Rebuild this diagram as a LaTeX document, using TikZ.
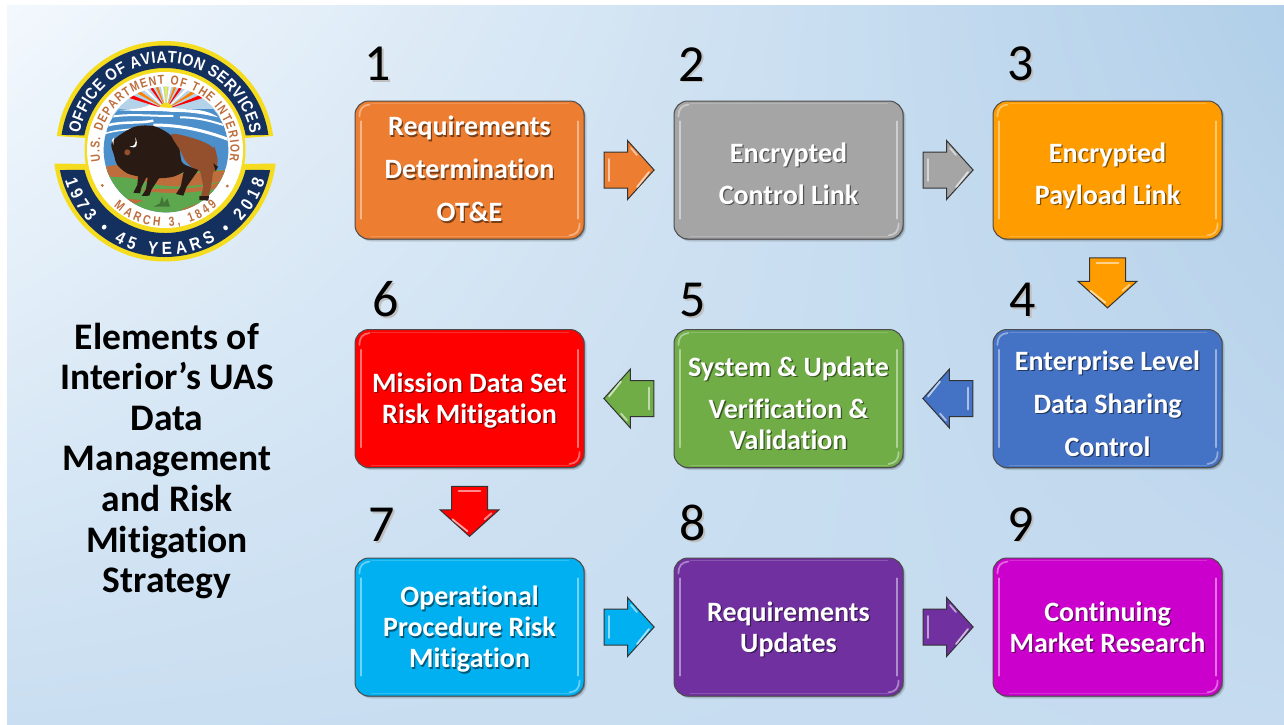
\documentclass[tikz,border=0pt]{standalone}
\usepackage{fontspec}
\setmainfont{Carlito}[Ligatures=NoCommon]
\newfontfamily\sealf{Liberation Sans}[FakeStretch=0.88]
\newfontfamily\sealn{Liberation Sans}[FakeStretch=0.8]
\usetikzlibrary{calc,shapes.arrows,shadows,decorations.text}
\definecolor{cOrange}{HTML}{ED7D31}
\definecolor{cGray}{HTML}{A5A5A5}
\definecolor{cAmber}{HTML}{FF9C00}
\definecolor{cBlue}{HTML}{4472C4}
\definecolor{cGreen}{HTML}{70AD47}
\definecolor{cRed}{HTML}{FF0000}
\definecolor{cCyan}{HTML}{00B0F0}
\definecolor{cPurple}{HTML}{7030A0}
\definecolor{cMagenta}{HTML}{CC00CC}
\definecolor{navy}{HTML}{14305E}
\definecolor{sealyellow}{HTML}{F5DC1E}
\definecolor{sealbrown}{HTML}{BE6E3C}
\definecolor{sealsky}{HTML}{4C8FCB}
\definecolor{sealpale}{HTML}{B4D2E8}
\definecolor{sealgreen}{HTML}{5DA84E}
\definecolor{bisonlight}{HTML}{94502C}
\definecolor{bisondark}{HTML}{2A1A14}
\pgfdeclarefunctionalshading{bgshade}{\pgfpoint{0bp}{0bp}}{\pgfpoint{100bp}{100bp}}{}{
 25 sub 50 div exch 25 sub 50 div exch
 2 copy 2 copy mul -0.247 mul 3 1 roll 0.165 mul exch -0.012 mul add add 0.788 add 3 1 roll
 2 copy 2 copy mul -0.149 mul 3 1 roll 0.102 mul exch -0.012 mul add add 0.871 add 3 1 roll
 2 copy mul -0.070 mul 3 1 roll 0.047 mul exch -0.008 mul add add 0.945 add
}
\newcommand\st[1]{\leavevmode\rlap{\kern1.3pt\raisebox{-1.3pt}{\textcolor{tsh}{#1}}}#1}
\newcommand\nm[1]{\leavevmode\rlap{\kern1.5pt\raisebox{-1.5pt}{\textcolor{black!25}{#1}}}#1}
\tikzset{
 x=1pt,y=-1pt,
 boxnode/.style={rounded corners=14pt,draw=black!70,line width=1pt,fill=#1,
   minimum width=229pt,minimum height=138pt,inner sep=0pt,align=center,text=white,
   font=\fontsize{28}{31}\selectfont\bfseries,
   general shadow={fill=black,opacity=.12,shadow xshift=2.5pt,shadow yshift=-2.5pt},
   general shadow={fill=black,opacity=.3,shadow xshift=1.2pt,shadow yshift=-1.2pt}},
 blockarrow/.style={single arrow,single arrow head extend=11.5pt,single arrow tip angle=96,
   minimum height=50pt,inner xsep=0pt,inner ysep=17.5pt,draw=black!80,line width=1pt,fill=#1,transform shape},
 numnode/.style={font=\fontsize{52}{52}\selectfont,text=black,inner sep=0pt},
 titlenode/.style={font=\fontsize{37.5}{40.6}\selectfont\bfseries,text=black,align=center,inner sep=0pt},
}
\newcommand\bx[6]{% name, cx, cy, colour, text shift, text
 \colorlet{tsh}{#4!50!black}
 \node[boxnode=#4] (#1) at (#2,#3) {\raisebox{#5}[\height][\depth]{\begin{tabular}{@{}c@{}}#6\end{tabular}}};
 \draw[line width=2.4pt,#4!55!white,line cap=round] ([shift={(6.5,21)}]#1.north west) -- ([shift={(6.5,-21)}]#1.south west);
 \draw[line width=2.4pt,#4!55!white,line cap=round] ([shift={(-6.5,21)}]#1.north east) -- ([shift={(-6.5,-21)}]#1.south east);
 \draw[line width=.8pt,#4!82!white] ([shift={(16,3)}]#1.north west) -- ([shift={(-16,3)}]#1.north east);
 \draw[line width=.8pt,#4!82!white] ([shift={(16,-3)}]#1.south west) -- ([shift={(-16,-3)}]#1.south east);
 \draw[line width=1.8pt,#4!60!white,line cap=round] ([shift={(5,16)}]#1.north west) .. controls ([shift={(5,8)}]#1.north west) and ([shift={(8,5)}]#1.north west) .. ([shift={(15,4)}]#1.north west);
 \draw[line width=1.8pt,#4!60!white,line cap=round] ([shift={(-5,-16)}]#1.south east) .. controls ([shift={(-5,-8)}]#1.south east) and ([shift={(-8,-5)}]#1.south east) .. ([shift={(-15,-4)}]#1.south east);
}
\newcommand\ar[4]{% name, position, rotation, colour
 \coordinate (#1p) at #2;
 \begin{scope}[shift={(#1p)},rotate=#3]
  \node[blockarrow=#4] (#1) at (-8,0) {};
  \draw[line width=1.8pt,#4!45!white,line cap=round] (-20,-11) -- (-20,11);
  \draw[line width=1.8pt,#4!35!white,line cap=round] (20,2) -- (8,17);
  \draw[line width=1.8pt,#4!45!white,line cap=round] (2,-22) -- (8,-15);
 \end{scope}
}
\def\sealA{\sealf\bfseries\fontsize{16.5}{18}\selectfont\color{white}}
\def\sealC{\sealf\bfseries\fontsize{17.5}{18}\selectfont\color{white}}
\def\sealB{\sealn\bfseries\fontsize{13}{14}\selectfont\color{sealbrown}}
\begin{document}
\begin{tikzpicture}
\useasboundingbox (0,0) rectangle (1284,724);
\fill[white] (0,0) rectangle (1284,724);
\shade[shading=bgshade] (7,5) rectangle (1284,724);

% seal: bands and rings
\begin{scope}[shift={(165,150)},x=1pt,y=1pt]
 \fill[sealyellow] (172.6:109) arc (172.6:7.4:109) -- (8.6:80) arc (8.6:171.4:80) -- cycle;
 \fill[navy] (171.7:104.5) arc (171.7:8.3:104.5) -- (10.3:82) arc (10.3:169.7:82) -- cycle;
 \fill[sealyellow] (187:111.5) arc (187:353:111.5) -- (-10:80) arc (-10:-170:80) -- cycle;
 \fill[navy] (190.8:107) arc (190.8:349.2:107) -- (-13.8:83) arc (-13.8:-166.2:83) -- cycle;
 \fill[sealyellow] (0,0) circle (80.5);
 \fill[white] (0,0) circle (78);
\end{scope}
% seal: scene, in the coordinates of a 3x crop
\begin{scope}[shift={(40,30)},x=0.33333pt,y=-0.33333pt]
 \begin{scope}
  \clip (378,360) circle (190);
  \clip (170,160) rectangle (590,262);
  \fill[sealpale] (170,160) rectangle (590,262);
  \foreach \a/\c in {-20/cRed,-32/orange,-44/white,-56/cRed,-68/orange,-80/white,-90/yellow,-100/white,-112/orange,-124/cRed,-136/white,-148/orange,-160/cRed}
   \fill[\c] (378,238) -- ($(378,238)+(\a-2.8:150)$) -- ($(378,238)+(\a+2.8:150)$) -- cycle;
 \end{scope}
 \begin{scope}
  \clip (378,360) circle (187);
  \fill[sealsky] (150,238) rectangle (610,560);
  \fill[sealyellow] (378,238) circle (20);
  \fill[sealsky] (150,238) rectangle (610,300);
  \fill[white] (230,240) .. controls (280,238) and (310,235) .. (330,224) .. controls (350,235) and (400,232) .. (440,238) .. controls (480,238) and (510,245) .. (535,262) .. controls (480,250) and (440,245) .. (400,246) .. controls (340,240) and (290,245) .. (230,240) -- cycle;
  \draw[white,line width=2pt] (200,262) .. controls (270,250) and (320,258) .. (400,258);
  \draw[white,line width=2pt] (420,262) .. controls (470,262) and (510,272) .. (550,285);
  \draw[white,line width=2.5pt] (190,290) .. controls (240,272) and (290,282) .. (340,272);
  \draw[white,line width=3pt] (340,285) .. controls (420,285) and (490,300) .. (570,330);
  \draw[white,line width=1.5pt] (190,312) .. controls (220,302) and (250,300) .. (285,296);
  \fill[sealgreen] (170,420) rectangle (590,560);
  \fill[sealbrown] (185,415) .. controls (230,395) and (270,410) .. (330,425) .. controls (420,440) and (500,425) .. (565,420) -- (565,450) .. controls (470,470) and (380,480) .. (300,450) .. controls (260,440) and (220,440) .. (190,440) -- cycle;
  \fill[sealbrown] (300,480) .. controls (370,470) and (450,490) .. (560,450) -- (560,470) .. controls (470,490) and (380,495) .. (300,480) -- cycle;
  \fill[sealbrown] (235,505) -- (310,510) -- (290,520) -- (250,518) -- cycle;
  \fill[sealbrown] (420,540) -- (480,518) -- (530,515) -- (490,535) -- cycle;
  \fill[sealgreen!70!black] (360,520) -- (366,498) -- (372,520) -- (382,505) -- (390,530) -- (340,530) -- cycle;
 \end{scope}
 % bison
 \fill[bisondark] plot[smooth cycle] coordinates {(214,342) (235,318) (285,290) (340,288) (385,310) (415,345) (425,395) (445,415) (400,440) (345,445) (300,440) (262,430) (232,405) (222,375)};
 \fill[bisonlight] plot[smooth cycle] coordinates {(395,312) (470,328) (518,352) (533,392) (518,428) (470,420) (438,395) (420,360)};
 \fill[bisondark] (325,430) -- (360,440) -- (335,478) -- (328,497) -- (305,498) -- (318,478) -- cycle;
 \fill[bisondark] (295,430) -- (320,440) -- (305,470) -- (300,490) -- (280,488) -- (292,465) -- cycle;
 \fill[bisondark] (435,405) -- (475,420) -- (440,470) -- (430,497) -- (408,492) -- (422,470) -- cycle;
 \fill[bisonlight] (478,410) -- (520,420) -- (513,470) -- (505,505) -- (480,510) -- (490,470) -- cycle;
 \fill[bisondark] (478,498) -- (507,498) -- (505,512) -- (478,510) -- cycle;
 \draw[bisonlight,line width=1.2pt] (522,352) .. controls (532,380) and (528,395) .. (526,415);
 \fill[bisondark] (520,400) -- (534,410) -- (527,424) -- cycle;
 \fill[white] (268,348) .. controls (284,352) and (290,340) .. (286,322) .. controls (296,345) and (290,360) .. (268,348) -- cycle;
 \fill[white] (216,330) -- (222,322) -- (220,345) -- cycle;
 \fill[bisonlight] (262,367) circle (9);
\end{scope}
% seal: lettering
\begin{scope}[shift={(165,150)},x=1pt,y=1pt]
 \path[decorate,decoration={text along path,text align={fit to path},text={|\sealA|OFFICE OF AVIATION SERVICES}}] (169:87) arc (169:11:87);
 \path[decorate,decoration={text along path,text align={fit to path},text={|\sealC|1973 • 45 YEARS • 2018}}] (197:104.5) arc (197:343:104.5);
 \path[decorate,decoration={text along path,text align={fit to path},text={|\sealB|U.S. DEPARTMENT OF THE INTERIOR}}] (190:65.5) arc (190:-10:65.5);
 \path[decorate,decoration={text along path,text align={fit to path},text={|\sealB|MARCH 3, 1849}}] (228:76.5) arc (228:313:76.5);
 \fill[sealbrown] (209.5:72) circle (1.6);
 \fill[sealbrown] (330:72) circle (1.6);
\end{scope}

% title
\node[titlenode] (title) at (167,461) {Elements of\\Interior’s UAS\\Data\\Management\\and Risk\\Mitigation\\Strategy};

% boxes
\bx{b1}{469.5}{170}{cOrange}{-2.5pt}{\st{Requirements}\\[12pt]\st{Determination}\\[12pt]\st{OT\&E}}
\bx{b2}{788.5}{170}{cGray}{-7pt}{\st{Encrypted}\\[11pt]\st{Control Link}}
\bx{b3}{1107.5}{170}{cAmber}{-7pt}{\st{Encrypted}\\[11pt]\st{Payload Link}}
\bx{b4}{1107.5}{398.5}{cBlue}{-8.5pt}{\st{Enterprise Level}\\[12pt]\st{Data Sharing}\\[12pt]\st{Control}}
\bx{b5}{788.5}{398.5}{cGreen}{-8pt}{\st{System \& Update}\\[11pt]\st{Verification \&}\\\st{Validation}}
\bx{b6}{469.5}{398.5}{cRed}{-3pt}{\st{Mission Data Set}\\\st{Risk Mitigation}}
\bx{b7}{469.5}{627}{cCyan}{-3.5pt}{\st{Operational}\\\st{Procedure Risk}\\\st{Mitigation}}
\bx{b8}{788.5}{627}{cPurple}{-3.5pt}{\st{Requirements}\\\st{Updates}}
\bx{b9}{1107.5}{627}{cMagenta}{-3.5pt}{\st{Continuing}\\\st{Market Research}}

% arrows
\ar{a12}{($(b1.east)!.5!(b2.west)$)}{0}{cOrange}
\ar{a23}{($(b2.east)!.5!(b3.west)$)}{0}{cGray}
\ar{a34}{($(b3.south)!.5!(b4.north)+(0,-1.5)$)}{-90}{cAmber}
\ar{a45}{($(b5.east)!.5!(b4.west)$)}{180}{cBlue}
\ar{a56}{($(b6.east)!.5!(b5.west)$)}{180}{cGreen}
\ar{a67}{($(b6.south)!.5!(b7.north)+(0,-1.5)$)}{-90}{cRed}
\ar{a78}{($(b7.east)!.5!(b8.west)$)}{0}{cCyan}
\ar{a89}{($(b8.east)!.5!(b9.west)$)}{0}{cPurple}

% numbers
\node[numnode] (n1) at (378,65) {\nm{1}};
\node[numnode] (n2) at (692,65) {\nm{2}};
\node[numnode] (n3) at (1021,65) {\nm{3}};
\node[numnode] (n4) at (1023,301) {\nm{4}};
\node[numnode] (n5) at (693,301) {\nm{5}};
\node[numnode] (n6) at (386,300) {\nm{6}};
\node[numnode] (n7) at (382,526) {\nm{7}};
\node[numnode] (n8) at (693,524) {\nm{8}};
\node[numnode] (n9) at (1021,525) {\nm{9}};
\end{tikzpicture}
\end{document}
